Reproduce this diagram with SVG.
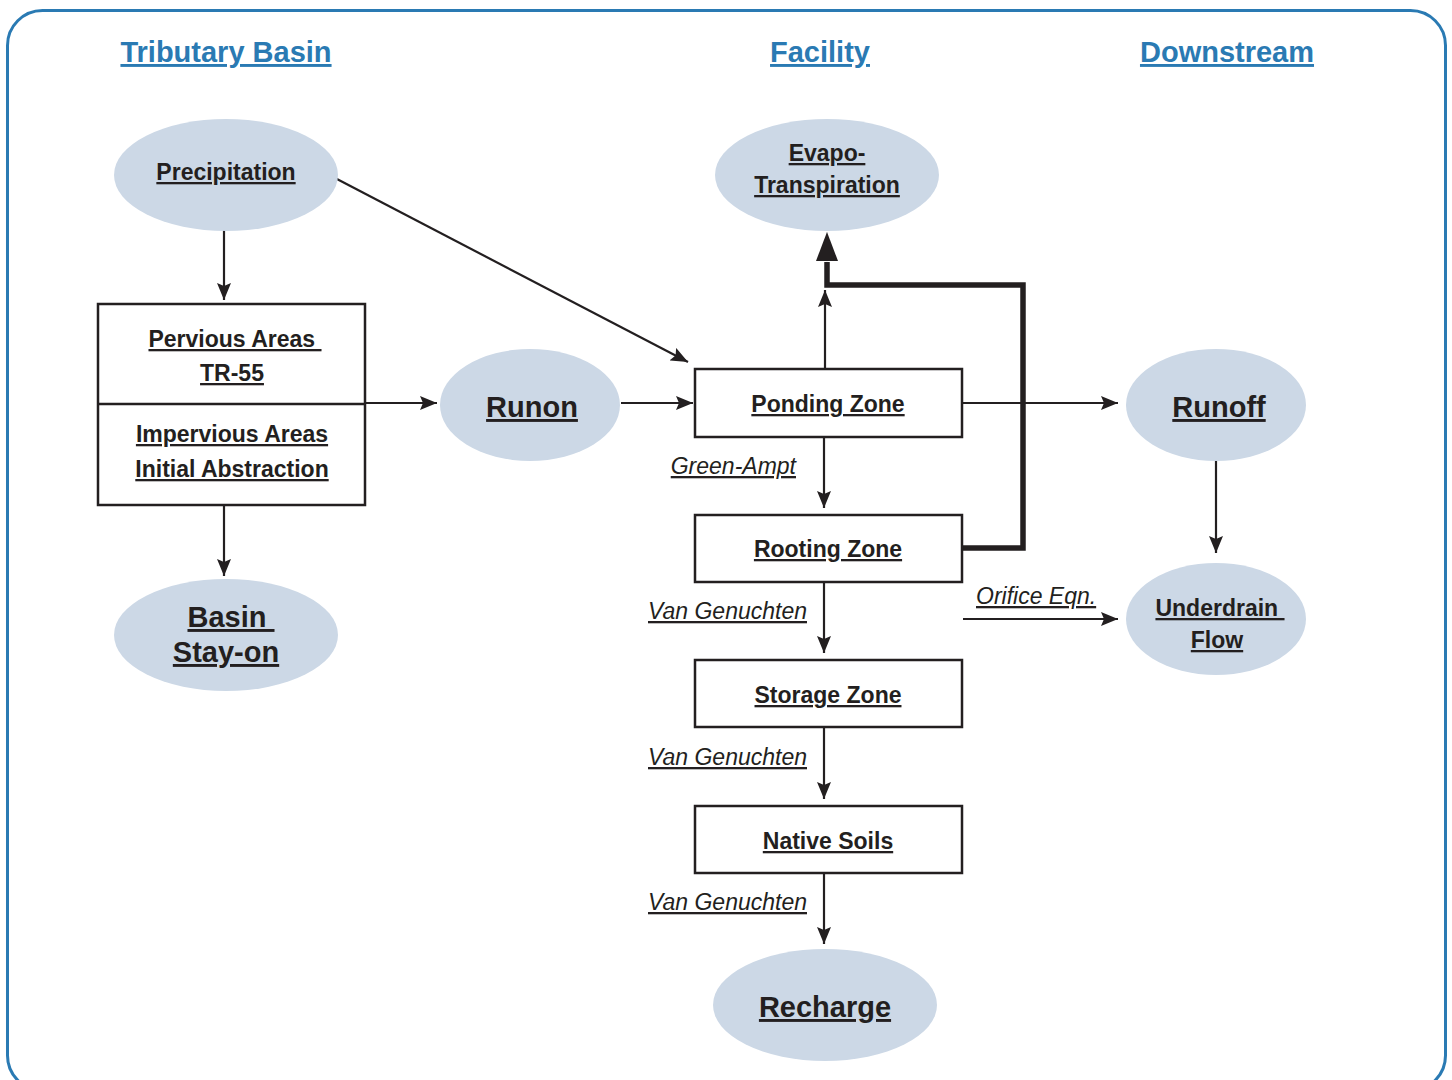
<svg xmlns="http://www.w3.org/2000/svg" width="1452" height="1080" viewBox="0 0 1452 1080">
<style>
.frame{fill:none;stroke:#2a7ab3;stroke-width:3}
.hd{font-family:"Liberation Sans",Arial,sans-serif;font-weight:bold;font-size:29px;fill:#2a7ab3;text-anchor:middle;text-decoration:underline}
.t{font-family:"Liberation Sans",Arial,sans-serif;font-weight:bold;font-size:23px;fill:#231f20;text-anchor:middle;text-decoration:underline}
.tl{font-family:"Liberation Sans",Arial,sans-serif;font-weight:bold;font-size:29px;fill:#231f20;text-anchor:middle;text-decoration:underline}
.lb{font-family:"Liberation Sans",Arial,sans-serif;font-style:italic;font-size:23px;fill:#231f20;text-decoration:underline}
.el{fill:#ccd8e6}
.bx{fill:#fff;stroke:#231f20;stroke-width:2.5}
.c{fill:none;stroke:#231f20;stroke-width:2.2}
.thick{fill:none;stroke:#231f20;stroke-width:5.5}
</style>
<defs>
<marker id="ah" markerUnits="userSpaceOnUse" markerWidth="18" markerHeight="14" viewBox="0 0 18 14" refX="17" refY="7" orient="auto">
<path d="M0,0 L17,7 L0,14 L3,7 Z" fill="#231f20"/>
</marker>
<marker id="ahb" markerUnits="userSpaceOnUse" markerWidth="30" markerHeight="22" viewBox="0 0 30 22" refX="29" refY="11" orient="auto">
<path d="M0,0 L29,11 L0,22 Z" fill="#231f20"/>
</marker>
</defs>
<rect class="frame" x="7.5" y="10.5" width="1438" height="1080" rx="35" ry="35"/>
<g id="headings">
<text class="hd" x="226" y="62">Tributary Basin</text>
<text class="hd" x="820" y="62">Facility</text>
<text class="hd" x="1227" y="62">Downstream</text>
</g>
<g id="connectors">
<line class="c" x1="224" y1="230" x2="224" y2="300" marker-end="url(#ah)"/>
<line class="c" x1="224" y1="505" x2="224" y2="576" marker-end="url(#ah)"/>
<line class="c" x1="365" y1="403" x2="437" y2="403" marker-end="url(#ah)"/>
<line class="c" x1="621" y1="403" x2="693" y2="403" marker-end="url(#ah)"/>
<line class="c" x1="335" y1="178" x2="688" y2="362" marker-end="url(#ah)"/>
<line class="c" x1="825" y1="369" x2="825" y2="290" marker-end="url(#ah)"/>
<polyline class="thick" points="962,548 1023,548 1023,285 827,285 827,262"/>
<line x1="827" y1="262" x2="827" y2="232" stroke="#231f20" stroke-width="0.1" marker-end="url(#ahb)"/>
<line class="c" x1="962" y1="403" x2="1118" y2="403" marker-end="url(#ah)"/>
<line class="c" x1="1216" y1="461" x2="1216" y2="553" marker-end="url(#ah)"/>
<line class="c" x1="963" y1="619" x2="1118" y2="619" marker-end="url(#ah)"/>
<line class="c" x1="824" y1="437" x2="824" y2="508" marker-end="url(#ah)"/>
<line class="c" x1="824" y1="582" x2="824" y2="653" marker-end="url(#ah)"/>
<line class="c" x1="824" y1="727" x2="824" y2="799" marker-end="url(#ah)"/>
<line class="c" x1="824" y1="873" x2="824" y2="944" marker-end="url(#ah)"/>
<text class="lb" x="796" y="474" text-anchor="end">Green-Ampt</text>
<text class="lb" x="807" y="619" text-anchor="end">Van Genuchten</text>
<text class="lb" x="807" y="765" text-anchor="end">Van Genuchten</text>
<text class="lb" x="807" y="910" text-anchor="end">Van Genuchten</text>
<text class="lb" x="976" y="604">Orifice Eqn.</text>
</g>
<g id="precipitation">
<ellipse class="el" cx="226" cy="175" rx="112" ry="56"/>
<text class="t" x="226" y="180">Precipitation</text>
</g>
<g id="tributary-box">
<rect class="bx" x="98" y="304" width="267" height="201"/>
<line x1="98" y1="404" x2="365" y2="404" stroke="#231f20" stroke-width="2.5"/>
<text class="t" x="235" y="347" xml:space="preserve">Pervious Areas </text>
<text class="t" x="232" y="381">TR-55</text>
<text class="t" x="232" y="442">Impervious Areas</text>
<text class="t" x="232" y="477">Initial Abstraction</text>
</g>
<g id="basin-stay-on">
<ellipse class="el" cx="226" cy="635" rx="112" ry="56"/>
<text class="tl" x="231" y="627" xml:space="preserve">Basin </text>
<text class="tl" x="226" y="662">Stay-on</text>
</g>
<g id="runon">
<ellipse class="el" cx="530" cy="405" rx="90" ry="56"/>
<text class="tl" x="532" y="417">Runon</text>
</g>
<g id="evapotranspiration">
<ellipse class="el" cx="827" cy="175" rx="112" ry="56"/>
<text class="t" x="827" y="161">Evapo-</text>
<text class="t" x="827" y="193">Transpiration</text>
</g>
<g id="ponding-zone">
<rect class="bx" x="695" y="369" width="267" height="68"/>
<text class="t" x="828" y="412">Ponding Zone</text>
</g>
<g id="rooting-zone">
<rect class="bx" x="695" y="515" width="267" height="67"/>
<text class="t" x="828" y="557">Rooting Zone</text>
</g>
<g id="storage-zone">
<rect class="bx" x="695" y="660" width="267" height="67"/>
<text class="t" x="828" y="703">Storage Zone</text>
</g>
<g id="native-soils">
<rect class="bx" x="695" y="806" width="267" height="67"/>
<text class="t" x="828" y="849">Native Soils</text>
</g>
<g id="recharge">
<ellipse class="el" cx="825" cy="1005" rx="112" ry="56"/>
<text class="tl" x="825" y="1017">Recharge</text>
</g>
<g id="runoff">
<ellipse class="el" cx="1216" cy="405" rx="90" ry="56"/>
<text class="tl" x="1219" y="417">Runoff</text>
</g>
<g id="underdrain-flow">
<ellipse class="el" cx="1216" cy="619" rx="90" ry="56"/>
<text class="t" x="1220" y="616" xml:space="preserve">Underdrain </text>
<text class="t" x="1217" y="648">Flow</text>
</g>
</svg>
